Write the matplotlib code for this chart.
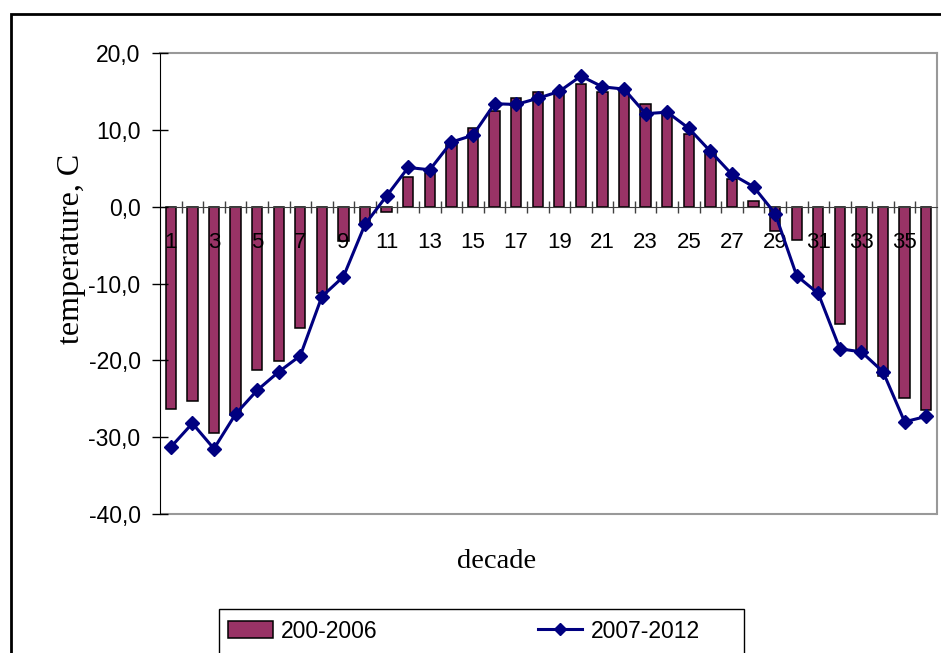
import matplotlib
matplotlib.use("Agg")
import matplotlib.pyplot as plt
from matplotlib.patches import Rectangle
from matplotlib.lines import Line2D
from matplotlib.ticker import FuncFormatter

# decades 1..36
decades = list(range(1, 37))

# 200-2006 (bars)
temp_2000_2006 = [-26.3, -25.3, -29.4, -27.1, -21.3, -20.1, -15.8, -11.2, -4.5, -2.2,
                  -0.7, 3.8, 4.4, 8.2, 10.3, 12.5, 14.1, 14.9, 15.0, 16.0,
                  14.9, 15.2, 13.4, 12.1, 9.5, 7.0, 3.6, 0.7, -3.2, -4.3,
                  -10.9, -15.3, -18.6, -22.1, -24.9, -26.5]

# 2007-2012 (line)
temp_2007_2012 = [-31.3, -28.2, -31.5, -27.0, -23.9, -21.5, -19.4, -11.7, -9.1, -2.3,
                  1.4, 5.1, 4.8, 8.4, 9.3, 13.4, 13.3, 14.1, 15.0, 17.0,
                  15.6, 15.3, 12.1, 12.3, 10.2, 7.2, 4.2, 2.6, -0.9, -9.0,
                  -11.3, -18.5, -18.9, -21.5, -28.0, -27.3]

y_ticks = [-40, -30, -20, -10, 0, 10, 20]

W, H = 941, 653
fig = plt.figure(figsize=(W / 100, H / 100), dpi=100)

# outer chart frame (clipped at right and bottom in the original)
fig.patches.append(Rectangle((11 / W, -0.1), 1.2, 1 - 14 / H + 0.1, transform=fig.transFigure,
                             fill=False, edgecolor="black", linewidth=2))

ax = fig.add_axes([160 / W, 1 - 514 / H, (937 - 160) / W, (514 - 53) / H])
ax.set_axisbelow(False)

ax.bar(decades, temp_2000_2006, width=0.48, color="#993366", edgecolor="black",
       linewidth=1.1, zorder=2)
ax.plot(decades, temp_2007_2012, color="#000080", linewidth=2.2, marker="D",
        markersize=7.5, zorder=3, clip_on=False)

ax.set_xlim(0.5, 36.5)
ax.set_ylim(-40, 20)

# spines: x axis crosses at 0, plot area border grey
ax.spines["bottom"].set_position(("data", 0))
ax.spines["bottom"].set_color("#404040")
ax.spines["left"].set_color("black")
ax.spines["top"].set_color("#999999")
ax.spines["right"].set_color("#999999")
ax.spines["top"].set_linewidth(1.5)
ax.spines["right"].set_linewidth(1.5)
ax.add_patch(Rectangle((0, 0), 1, 0.0, transform=ax.transAxes, fill=False,
                       edgecolor="#999999", linewidth=1.5, clip_on=False))

ax.set_yticks(y_ticks)
ax.yaxis.set_major_formatter(FuncFormatter(lambda v, p: f"{v:.1f}".replace(".", ",")))
ax.tick_params(axis="y", direction="inout", length=11, width=1, pad=8.5,
               labelsize=16.5)

ax.set_xticks(decades[::2])
ax.set_xticklabels([str(d) for d in decades[::2]])
ax.set_xticks([d + 0.5 for d in decades[:-1]], minor=True)
ax.tick_params(axis="x", which="major", length=0, pad=18, labelsize=16)
ax.tick_params(axis="x", which="minor", direction="inout", length=8, width=1,
               color="#404040")
for lab in ax.get_xticklabels() + ax.get_yticklabels():
    lab.set_fontfamily("Liberation Sans")

fig.text(72 / W, 1 - 249 / H, "temperature, C", rotation=90, ha="center", va="center",
         fontsize=23, family="Liberation Serif")
fig.text(497 / W, 1 - 562 / H, "decade", ha="center", va="center",
         fontsize=20.5, family="Liberation Serif")

# legend with frame running off the bottom edge
fig.patches.append(Rectangle((219 / W, -0.1), (744 - 219) / W, 1 - 609 / H + 0.1,
                             transform=fig.transFigure, fill=False,
                             edgecolor="black", linewidth=1))
handles = [Rectangle((0, 0), 1, 1, facecolor="#993366", edgecolor="black", linewidth=1.1),
           Line2D([], [], color="#000080", linewidth=2.2, marker="D", markersize=6)]
fig.legend(handles, ["200-2006", "2007-2012"], ncol=2, loc="center left",
           bbox_to_anchor=(228 / W, 1 - 631 / H), frameon=False, borderpad=0,
           borderaxespad=0, handlelength=1.95, handletextpad=0.35,
           columnspacing=7.0, prop={"family": "Liberation Sans", "size": 16.5})

fig.savefig("out.png", dpi=100, facecolor="white")
